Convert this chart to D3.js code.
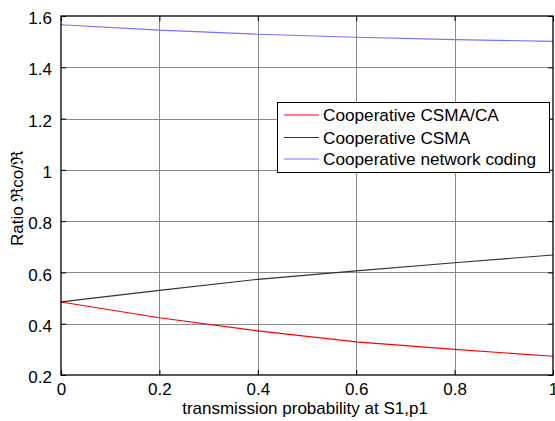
<!DOCTYPE html>
<html>
<head>
<meta charset="utf-8">
<script src="https://cdn.jsdelivr.net/npm/d3@7"></script>
<style>
  html, body { margin: 0; padding: 0; background: #fff; }
  svg { display: block; }
  text { font-family: "Liberation Sans", Arial, Helvetica, sans-serif; fill: #000; }
</style>
</head>
<body>
<svg id="chart" width="555" height="421"></svg>
<script>
// ---- data ----
const pValues = [0, 0.2, 0.4, 0.6, 0.8, 1.0];
const csmaCA = [0.485, 0.423, 0.372, 0.329, 0.300, 0.273];
const csma = [0.485, 0.530, 0.573, 0.606, 0.638, 0.668];
const netCoding = [1.566, 1.545, 1.529, 1.517, 1.508, 1.501];
const seriesNames = ["Cooperative CSMA/CA", "Cooperative CSMA", "Cooperative network coding"];
const seriesColors = ["#ff0000", "#333333", "#7373ff"];
const xTicks = [0, 0.2, 0.4, 0.6, 0.8, 1];
const xTickLabels = ["0", "0.2", "0.4", "0.6", "0.8", "1"];
const yTicks = [0.2, 0.4, 0.6, 0.8, 1.0, 1.2, 1.4, 1.6];
const yTickLabels = ["0.2", "0.4", "0.6", "0.8", "1", "1.2", "1.4", "1.6"];
const xLabel = "transmission probability at S1,p1";
const yLabel = "Ratio \u211Cco/\u211C";

// ---- layout ----
const svg = d3.select("#chart");
const L = 61, R = 553, T = 16, B = 375;
const x = d3.scaleLinear().domain([0, 1]).range([L, R]);
const y = d3.scaleLinear().domain([0.2, 1.6]).range([B, T]);

// grid
const g = svg.append("g");
g.selectAll(".vg").data(xTicks.slice(1, -1)).enter().append("line")
  .attr("x1", d => Math.round(x(d)) + 0.5).attr("x2", d => Math.round(x(d)) + 0.5)
  .attr("y1", T).attr("y2", B)
  .attr("stroke", "#8a8a8a").attr("stroke-width", 1);
g.selectAll(".hg").data(yTicks.slice(1, -1)).enter().append("line")
  .attr("y1", d => Math.round(y(d)) + 0.5).attr("y2", d => Math.round(y(d)) + 0.5)
  .attr("x1", L).attr("x2", R)
  .attr("stroke", "#8a8a8a").attr("stroke-width", 1);

// series
const series = [csmaCA, csma, netCoding];
const line = d3.line().x(d => x(d[0])).y(d => y(d[1]));
series.forEach((vals, i) => {
  svg.append("path")
    .datum(pValues.map((p, j) => [p, vals[j]]))
    .attr("fill", "none")
    .attr("stroke", seriesColors[i])
    .attr("stroke-width", 1.1)
    .attr("d", line);
});

// axes (MATLAB style: ticks inside, box)
const xAxisB = d3.axisBottom(x).tickValues(xTicks).tickFormat((d, i) => xTickLabels[i]).tickSizeInner(-5).tickSizeOuter(0).tickPadding(9);
const xAxisT = d3.axisTop(x).tickValues(xTicks).tickFormat("").tickSizeInner(-5).tickSizeOuter(0);
const yAxisL = d3.axisLeft(y).tickValues(yTicks).tickFormat((d, i) => yTickLabels[i]).tickSizeInner(-5).tickSizeOuter(0).tickPadding(9);
const yAxisR = d3.axisRight(y).tickValues(yTicks).tickFormat("").tickSizeInner(-5).tickSizeOuter(0);

const gxB = svg.append("g").attr("transform", `translate(0,${B})`).call(xAxisB);
const gxT = svg.append("g").attr("transform", `translate(0,${T})`).call(xAxisT);
const gyL = svg.append("g").attr("transform", `translate(${L},0)`).call(yAxisL);
const gyR = svg.append("g").attr("transform", `translate(${R},0)`).call(yAxisR);

[gxB, gxT, gyL, gyR].forEach(a => {
  a.selectAll(".domain").remove();
  a.selectAll("line").attr("stroke", "#000");
  a.selectAll("text").style("font-size", "17px").style("font-family", "'Liberation Sans', Arial, sans-serif");
});
gxB.selectAll("text").attr("dy", "0.66em");
gyL.selectAll("text").attr("dy", "0.45em");

// box
svg.append("rect")
  .attr("x", L).attr("y", T).attr("width", R - L).attr("height", B - T)
  .attr("fill", "none").attr("stroke", "#000").attr("stroke-width", 1.3);

// axis labels
svg.append("text")
  .attr("x", (L + R) / 2 - 2).attr("y", 414)
  .attr("text-anchor", "middle")
  .style("font-size", "17px")
  .text(xLabel);
svg.append("text")
  .attr("transform", `translate(23,${(T + B) / 2 + 3}) rotate(-90)`)
  .attr("text-anchor", "middle")
  .style("font-size", "17px")
  .text(yLabel);

// legend
const lg = svg.append("g");
lg.append("rect")
  .attr("x", 277.5).attr("y", 102.5).attr("width", 272).attr("height", 70)
  .attr("fill", "#fff").attr("stroke", "#000").attr("stroke-width", 1);
const legendY = [115, 137.5, 159];
seriesNames.forEach((name, i) => {
  lg.append("line")
    .attr("x1", 284).attr("x2", 319).attr("y1", legendY[i]).attr("y2", legendY[i])
    .attr("stroke", seriesColors[i]).attr("stroke-width", 1.1);
  lg.append("text")
    .attr("x", 323).attr("y", legendY[i] + 6)
    .style("font-size", "17.2px")
    .text(name);
});
</script>
</body>
</html>
